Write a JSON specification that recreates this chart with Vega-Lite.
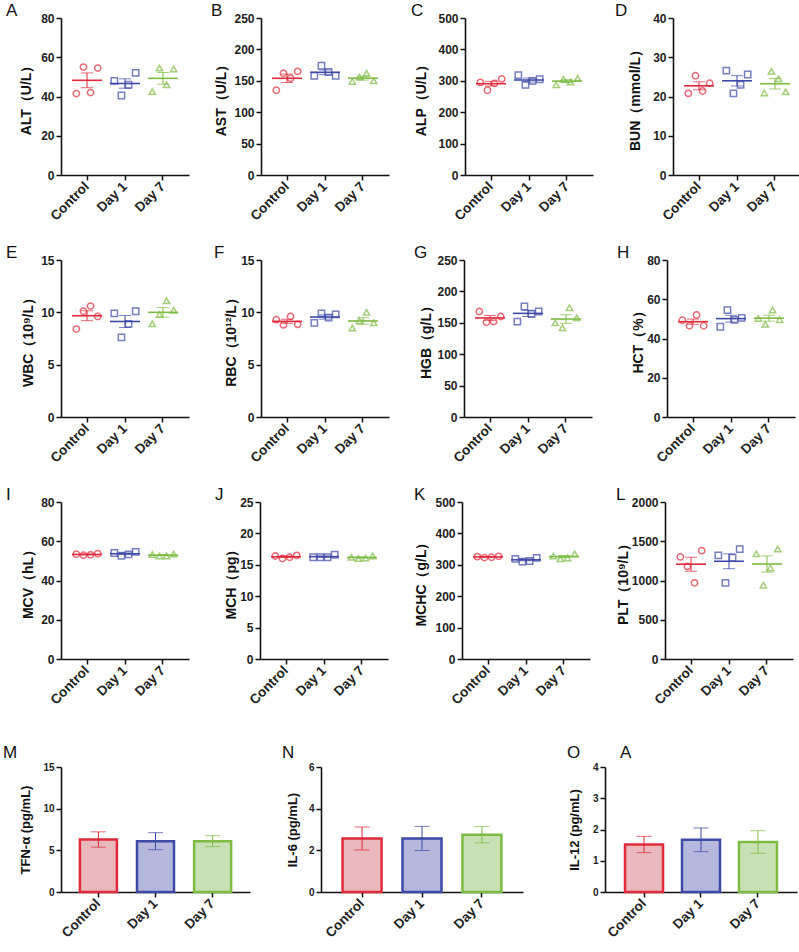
{
"$schema": "https://vega.github.io/schema/vega-lite/v6.json",
"padding": {"left": 3, "top": 2, "right": 0, "bottom": 0},
"background": "white",
"datasets": {
"dots": [
{"panel":"ALT","group":"Control","rep":1,"value":41.5},{"panel":"ALT","group":"Control","rep":2,"value":55},{"panel":"ALT","group":"Control","rep":3,"value":42},{"panel":"ALT","group":"Control","rep":4,"value":54.5},
{"panel":"ALT","group":"Day 1","rep":1,"value":48},{"panel":"ALT","group":"Day 1","rep":2,"value":40.5},{"panel":"ALT","group":"Day 1","rep":3,"value":46},{"panel":"ALT","group":"Day 1","rep":4,"value":52},
{"panel":"ALT","group":"Day 7","rep":1,"value":42.5},{"panel":"ALT","group":"Day 7","rep":2,"value":54.5},{"panel":"ALT","group":"Day 7","rep":3,"value":46},{"panel":"ALT","group":"Day 7","rep":4,"value":54},
{"panel":"AST","group":"Control","rep":1,"value":135},{"panel":"AST","group":"Control","rep":2,"value":162},{"panel":"AST","group":"Control","rep":3,"value":154},{"panel":"AST","group":"Control","rep":4,"value":165},
{"panel":"AST","group":"Day 1","rep":1,"value":158},{"panel":"AST","group":"Day 1","rep":2,"value":174},{"panel":"AST","group":"Day 1","rep":3,"value":164},{"panel":"AST","group":"Day 1","rep":4,"value":158},
{"panel":"AST","group":"Day 7","rep":1,"value":149},{"panel":"AST","group":"Day 7","rep":2,"value":156},{"panel":"AST","group":"Day 7","rep":3,"value":162},{"panel":"AST","group":"Day 7","rep":4,"value":150},
{"panel":"ALP","group":"Control","rep":1,"value":295},{"panel":"ALP","group":"Control","rep":2,"value":270},{"panel":"ALP","group":"Control","rep":3,"value":292},{"panel":"ALP","group":"Control","rep":4,"value":306},
{"panel":"ALP","group":"Day 1","rep":1,"value":318},{"panel":"ALP","group":"Day 1","rep":2,"value":287},{"panel":"ALP","group":"Day 1","rep":3,"value":300},{"panel":"ALP","group":"Day 1","rep":4,"value":305},
{"panel":"ALP","group":"Day 7","rep":1,"value":287},{"panel":"ALP","group":"Day 7","rep":2,"value":305},{"panel":"ALP","group":"Day 7","rep":3,"value":296},{"panel":"ALP","group":"Day 7","rep":4,"value":308},
{"panel":"BUN","group":"Control","rep":1,"value":20.8},{"panel":"BUN","group":"Control","rep":2,"value":25.3},{"panel":"BUN","group":"Control","rep":3,"value":21.4},{"panel":"BUN","group":"Control","rep":4,"value":23.4},
{"panel":"BUN","group":"Day 1","rep":1,"value":26.6},{"panel":"BUN","group":"Day 1","rep":2,"value":20.8},{"panel":"BUN","group":"Day 1","rep":3,"value":23.0},{"panel":"BUN","group":"Day 1","rep":4,"value":25.6},
{"panel":"BUN","group":"Day 7","rep":1,"value":20.9},{"panel":"BUN","group":"Day 7","rep":2,"value":26.4},{"panel":"BUN","group":"Day 7","rep":3,"value":24.5},{"panel":"BUN","group":"Day 7","rep":4,"value":21.2},
{"panel":"WBC","group":"Control","rep":1,"value":8.4},{"panel":"WBC","group":"Control","rep":2,"value":10.1},{"panel":"WBC","group":"Control","rep":3,"value":10.6},{"panel":"WBC","group":"Control","rep":4,"value":9.6},
{"panel":"WBC","group":"Day 1","rep":1,"value":9.9},{"panel":"WBC","group":"Day 1","rep":2,"value":7.6},{"panel":"WBC","group":"Day 1","rep":3,"value":8.9},{"panel":"WBC","group":"Day 1","rep":4,"value":10.1},
{"panel":"WBC","group":"Day 7","rep":1,"value":8.9},{"panel":"WBC","group":"Day 7","rep":2,"value":9.8},{"panel":"WBC","group":"Day 7","rep":3,"value":11.1},{"panel":"WBC","group":"Day 7","rep":4,"value":10.2},
{"panel":"RBC","group":"Control","rep":1,"value":9.3},{"panel":"RBC","group":"Control","rep":2,"value":8.8},{"panel":"RBC","group":"Control","rep":3,"value":9.6},{"panel":"RBC","group":"Control","rep":4,"value":8.85},
{"panel":"RBC","group":"Day 1","rep":1,"value":9.0},{"panel":"RBC","group":"Day 1","rep":2,"value":9.9},{"panel":"RBC","group":"Day 1","rep":3,"value":9.5},{"panel":"RBC","group":"Day 1","rep":4,"value":9.8},
{"panel":"RBC","group":"Day 7","rep":1,"value":8.5},{"panel":"RBC","group":"Day 7","rep":2,"value":9.2},{"panel":"RBC","group":"Day 7","rep":3,"value":10.0},{"panel":"RBC","group":"Day 7","rep":4,"value":9.0},
{"panel":"HGB","group":"Control","rep":1,"value":168},{"panel":"HGB","group":"Control","rep":2,"value":151},{"panel":"HGB","group":"Control","rep":3,"value":152},{"panel":"HGB","group":"Control","rep":4,"value":160},
{"panel":"HGB","group":"Day 1","rep":1,"value":152},{"panel":"HGB","group":"Day 1","rep":2,"value":176},{"panel":"HGB","group":"Day 1","rep":3,"value":164},{"panel":"HGB","group":"Day 1","rep":4,"value":168},
{"panel":"HGB","group":"Day 7","rep":1,"value":150},{"panel":"HGB","group":"Day 7","rep":2,"value":142},{"panel":"HGB","group":"Day 7","rep":3,"value":174},{"panel":"HGB","group":"Day 7","rep":4,"value":158},
{"panel":"HCT","group":"Control","rep":1,"value":49.3},{"panel":"HCT","group":"Control","rep":2,"value":46.5},{"panel":"HCT","group":"Control","rep":3,"value":52},{"panel":"HCT","group":"Control","rep":4,"value":46.5},
{"panel":"HCT","group":"Day 1","rep":1,"value":46},{"panel":"HCT","group":"Day 1","rep":2,"value":54.5},{"panel":"HCT","group":"Day 1","rep":3,"value":49.5},{"panel":"HCT","group":"Day 1","rep":4,"value":50.5},
{"panel":"HCT","group":"Day 7","rep":1,"value":50.2},{"panel":"HCT","group":"Day 7","rep":2,"value":47.2},{"panel":"HCT","group":"Day 7","rep":3,"value":54.5},{"panel":"HCT","group":"Day 7","rep":4,"value":49.6},
{"panel":"MCV","group":"Control","rep":1,"value":53.4},{"panel":"MCV","group":"Control","rep":2,"value":52.9},{"panel":"MCV","group":"Control","rep":3,"value":53.1},{"panel":"MCV","group":"Control","rep":4,"value":53.7},
{"panel":"MCV","group":"Day 1","rep":1,"value":54.0},{"panel":"MCV","group":"Day 1","rep":2,"value":52.6},{"panel":"MCV","group":"Day 1","rep":3,"value":53.3},{"panel":"MCV","group":"Day 1","rep":4,"value":54.6},
{"panel":"MCV","group":"Day 7","rep":1,"value":53.2},{"panel":"MCV","group":"Day 7","rep":2,"value":52.5},{"panel":"MCV","group":"Day 7","rep":3,"value":52.5},{"panel":"MCV","group":"Day 7","rep":4,"value":53.5},
{"panel":"MCH","group":"Control","rep":1,"value":16.4},{"panel":"MCH","group":"Control","rep":2,"value":16.0},{"panel":"MCH","group":"Control","rep":3,"value":16.2},{"panel":"MCH","group":"Control","rep":4,"value":16.5},
{"panel":"MCH","group":"Day 1","rep":1,"value":16.2},{"panel":"MCH","group":"Day 1","rep":2,"value":16.2},{"panel":"MCH","group":"Day 1","rep":3,"value":16.2},{"panel":"MCH","group":"Day 1","rep":4,"value":16.6},
{"panel":"MCH","group":"Day 7","rep":1,"value":16.2},{"panel":"MCH","group":"Day 7","rep":2,"value":16.0},{"panel":"MCH","group":"Day 7","rep":3,"value":16.1},{"panel":"MCH","group":"Day 7","rep":4,"value":16.4},
{"panel":"MCHC","group":"Control","rep":1,"value":326},{"panel":"MCHC","group":"Control","rep":2,"value":323},{"panel":"MCHC","group":"Control","rep":3,"value":324},{"panel":"MCHC","group":"Control","rep":4,"value":327},
{"panel":"MCHC","group":"Day 1","rep":1,"value":319},{"panel":"MCHC","group":"Day 1","rep":2,"value":310},{"panel":"MCHC","group":"Day 1","rep":3,"value":312},{"panel":"MCHC","group":"Day 1","rep":4,"value":322},
{"panel":"MCHC","group":"Day 7","rep":1,"value":328},{"panel":"MCHC","group":"Day 7","rep":2,"value":319},{"panel":"MCHC","group":"Day 7","rep":3,"value":322},{"panel":"MCHC","group":"Day 7","rep":4,"value":335},
{"panel":"PLT","group":"Control","rep":1,"value":1300},{"panel":"PLT","group":"Control","rep":2,"value":1180},{"panel":"PLT","group":"Control","rep":3,"value":970},{"panel":"PLT","group":"Control","rep":4,"value":1380},
{"panel":"PLT","group":"Day 1","rep":1,"value":1320},{"panel":"PLT","group":"Day 1","rep":2,"value":970},{"panel":"PLT","group":"Day 1","rep":3,"value":1290},{"panel":"PLT","group":"Day 1","rep":4,"value":1400},
{"panel":"PLT","group":"Day 7","rep":1,"value":1340},{"panel":"PLT","group":"Day 7","rep":2,"value":940},{"panel":"PLT","group":"Day 7","rep":3,"value":1160},{"panel":"PLT","group":"Day 7","rep":4,"value":1400}
],
"tfn": [{"group":"Control","mean":6.3,"err":0.92},{"group":"Day 1","mean":6.1,"err":1.02},{"group":"Day 7","mean":6.1,"err":0.66}],
"il6": [{"group":"Control","mean":2.57,"err":0.55},{"group":"Day 1","mean":2.57,"err":0.58},{"group":"Day 7","mean":2.75,"err":0.39}],
"il12": [{"group":"Control","mean":1.52,"err":0.26},{"group":"Day 1","mean":1.67,"err":0.38},{"group":"Day 7","mean":1.6,"err":0.36}]
},
"vconcat": [
{"vconcat": [
{"hconcat": [
{"title":{"text":"A","dx":-55},"width":128,"height":157,"data":{"name":"dots"},"transform":[{"filter":"datum.panel==='ALT'"}],
"encoding":{"x":{"field":"group","type":"nominal","sort":["Control","Day 1","Day 7"],"scale":{"type":"band","paddingInner":0.25,"paddingOuter":0.31},"axis":{"title":null}},"color":{"field":"group","type":"nominal","scale":{"domain":["Control","Day 1","Day 7"],"range":["#e02a3b","#3d4aa6","#7dbb43"]},"legend":null}},
"layer":[
{"mark":{"type":"point","filled":false,"size":40,"strokeWidth":1.5},"encoding":{"xOffset":{"field":"rep","type":"nominal"},"shape":{"field":"group","type":"nominal","scale":{"domain":["Control","Day 1","Day 7"],"range":["circle","square","triangle-up"]},"legend":null},"y":{"field":"value","type":"quantitative","scale":{"domain":[0,80],"nice":false},"axis":{"title":"ALT（U/L）","values":[0,20,40,60,80],"labelOverlap":false,"minExtent":26,"maxExtent":26}}}},
{"mark":{"type":"tick","size":30,"thickness":1.6},"encoding":{"y":{"aggregate":"mean","field":"value","type":"quantitative","axis":{"title":"ALT（U/L）","values":[0,20,40,60,80],"labelOverlap":false}}}},
{"mark":{"type":"errorbar","extent":"stderr","thickness":1,"ticks":{"size":12,"thickness":1}},"encoding":{"y":{"field":"value","type":"quantitative","axis":{"title":"ALT（U/L）","values":[0,20,40,60,80],"labelOverlap":false}}}}]},
{"title":{"text":"B","dx":-50},"width":128,"height":157,"data":{"name":"dots"},"transform":[{"filter":"datum.panel==='AST'"}],
"encoding":{"x":{"field":"group","type":"nominal","sort":["Control","Day 1","Day 7"],"scale":{"type":"band","paddingInner":0.25,"paddingOuter":0.31},"axis":{"title":null}},"color":{"field":"group","type":"nominal","scale":{"domain":["Control","Day 1","Day 7"],"range":["#e02a3b","#3d4aa6","#7dbb43"]},"legend":null}},
"layer":[
{"mark":{"type":"point","filled":false,"size":40,"strokeWidth":1.5},"encoding":{"xOffset":{"field":"rep","type":"nominal"},"shape":{"field":"group","type":"nominal","scale":{"domain":["Control","Day 1","Day 7"],"range":["circle","square","triangle-up"]},"legend":null},"y":{"field":"value","type":"quantitative","scale":{"domain":[0,250],"nice":false},"axis":{"title":"AST（U/L）","values":[0,50,100,150,200,250],"labelOverlap":false,"minExtent":31,"maxExtent":31}}}},
{"mark":{"type":"tick","size":30,"thickness":1.6},"encoding":{"y":{"aggregate":"mean","field":"value","type":"quantitative","axis":{"title":"AST（U/L）","values":[0,50,100,150,200,250],"labelOverlap":false}}}},
{"mark":{"type":"errorbar","extent":"stderr","thickness":1,"ticks":{"size":12,"thickness":1}},"encoding":{"y":{"field":"value","type":"quantitative","axis":{"title":"AST（U/L）","values":[0,50,100,150,200,250],"labelOverlap":false}}}}]},
{"title":{"text":"C","dx":-54},"width":128,"height":157,"data":{"name":"dots"},"transform":[{"filter":"datum.panel==='ALP'"}],
"encoding":{"x":{"field":"group","type":"nominal","sort":["Control","Day 1","Day 7"],"scale":{"type":"band","paddingInner":0.25,"paddingOuter":0.31},"axis":{"title":null}},"color":{"field":"group","type":"nominal","scale":{"domain":["Control","Day 1","Day 7"],"range":["#e02a3b","#3d4aa6","#7dbb43"]},"legend":null}},
"layer":[
{"mark":{"type":"point","filled":false,"size":40,"strokeWidth":1.5},"encoding":{"xOffset":{"field":"rep","type":"nominal"},"shape":{"field":"group","type":"nominal","scale":{"domain":["Control","Day 1","Day 7"],"range":["circle","square","triangle-up"]},"legend":null},"y":{"field":"value","type":"quantitative","scale":{"domain":[0,500],"nice":false},"axis":{"title":"ALP（U/L）","values":[0,100,200,300,400,500],"labelOverlap":false,"minExtent":35,"maxExtent":35}}}},
{"mark":{"type":"tick","size":30,"thickness":1.6},"encoding":{"y":{"aggregate":"mean","field":"value","type":"quantitative","axis":{"title":"ALP（U/L）","values":[0,100,200,300,400,500],"labelOverlap":false}}}},
{"mark":{"type":"errorbar","extent":"stderr","thickness":1,"ticks":{"size":12,"thickness":1}},"encoding":{"y":{"field":"value","type":"quantitative","axis":{"title":"ALP（U/L）","values":[0,100,200,300,400,500],"labelOverlap":false}}}}]},
{"title":{"text":"D","dx":-58},"width":128,"height":157,"data":{"name":"dots"},"transform":[{"filter":"datum.panel==='BUN'"}],
"encoding":{"x":{"field":"group","type":"nominal","sort":["Control","Day 1","Day 7"],"scale":{"type":"band","paddingInner":0.25,"paddingOuter":0.31},"axis":{"title":null}},"color":{"field":"group","type":"nominal","scale":{"domain":["Control","Day 1","Day 7"],"range":["#e02a3b","#3d4aa6","#7dbb43"]},"legend":null}},
"layer":[
{"mark":{"type":"point","filled":false,"size":40,"strokeWidth":1.5},"encoding":{"xOffset":{"field":"rep","type":"nominal"},"shape":{"field":"group","type":"nominal","scale":{"domain":["Control","Day 1","Day 7"],"range":["circle","square","triangle-up"]},"legend":null},"y":{"field":"value","type":"quantitative","scale":{"domain":[0,40],"nice":false},"axis":{"title":"BUN（mmol/L）","values":[0,10,20,30,40],"labelOverlap":false,"minExtent":29,"maxExtent":29}}}},
{"mark":{"type":"tick","size":30,"thickness":1.6},"encoding":{"y":{"aggregate":"mean","field":"value","type":"quantitative","axis":{"title":"BUN（mmol/L）","values":[0,10,20,30,40],"labelOverlap":false}}}},
{"mark":{"type":"errorbar","extent":"stderr","thickness":1,"ticks":{"size":12,"thickness":1}},"encoding":{"y":{"field":"value","type":"quantitative","axis":{"title":"BUN（mmol/L）","values":[0,10,20,30,40],"labelOverlap":false}}}}]}
], "spacing": 22},
{"hconcat": [
{"title":{"text":"E","dx":-55},"width":128,"height":157,"data":{"name":"dots"},"transform":[{"filter":"datum.panel==='WBC'"}],
"encoding":{"x":{"field":"group","type":"nominal","sort":["Control","Day 1","Day 7"],"scale":{"type":"band","paddingInner":0.25,"paddingOuter":0.31},"axis":{"title":null}},"color":{"field":"group","type":"nominal","scale":{"domain":["Control","Day 1","Day 7"],"range":["#e02a3b","#3d4aa6","#7dbb43"]},"legend":null}},
"layer":[
{"mark":{"type":"point","filled":false,"size":40,"strokeWidth":1.5},"encoding":{"xOffset":{"field":"rep","type":"nominal"},"shape":{"field":"group","type":"nominal","scale":{"domain":["Control","Day 1","Day 7"],"range":["circle","square","triangle-up"]},"legend":null},"y":{"field":"value","type":"quantitative","scale":{"domain":[0,15],"nice":false},"axis":{"title":"WBC（10⁹/L）","values":[0,5,10,15],"labelOverlap":false,"minExtent":24,"maxExtent":24}}}},
{"mark":{"type":"tick","size":30,"thickness":1.6},"encoding":{"y":{"aggregate":"mean","field":"value","type":"quantitative","axis":{"title":"WBC（10⁹/L）","values":[0,5,10,15],"labelOverlap":false}}}},
{"mark":{"type":"errorbar","extent":"stderr","thickness":1,"ticks":{"size":12,"thickness":1}},"encoding":{"y":{"field":"value","type":"quantitative","axis":{"title":"WBC（10⁹/L）","values":[0,5,10,15],"labelOverlap":false}}}}]},
{"title":{"text":"F","dx":-47},"width":128,"height":157,"data":{"name":"dots"},"transform":[{"filter":"datum.panel==='RBC'"}],
"encoding":{"x":{"field":"group","type":"nominal","sort":["Control","Day 1","Day 7"],"scale":{"type":"band","paddingInner":0.25,"paddingOuter":0.31},"axis":{"title":null}},"color":{"field":"group","type":"nominal","scale":{"domain":["Control","Day 1","Day 7"],"range":["#e02a3b","#3d4aa6","#7dbb43"]},"legend":null}},
"layer":[
{"mark":{"type":"point","filled":false,"size":40,"strokeWidth":1.5},"encoding":{"xOffset":{"field":"rep","type":"nominal"},"shape":{"field":"group","type":"nominal","scale":{"domain":["Control","Day 1","Day 7"],"range":["circle","square","triangle-up"]},"legend":null},"y":{"field":"value","type":"quantitative","scale":{"domain":[0,15],"nice":false},"axis":{"title":"RBC（10¹²/L）","values":[0,5,10,15],"labelOverlap":false,"minExtent":21,"maxExtent":21}}}},
{"mark":{"type":"tick","size":30,"thickness":1.6},"encoding":{"y":{"aggregate":"mean","field":"value","type":"quantitative","axis":{"title":"RBC（10¹²/L）","values":[0,5,10,15],"labelOverlap":false}}}},
{"mark":{"type":"errorbar","extent":"stderr","thickness":1,"ticks":{"size":12,"thickness":1}},"encoding":{"y":{"field":"value","type":"quantitative","axis":{"title":"RBC（10¹²/L）","values":[0,5,10,15],"labelOverlap":false}}}}]},
{"title":{"text":"G","dx":-50},"width":128,"height":157,"data":{"name":"dots"},"transform":[{"filter":"datum.panel==='HGB'"}],
"encoding":{"x":{"field":"group","type":"nominal","sort":["Control","Day 1","Day 7"],"scale":{"type":"band","paddingInner":0.25,"paddingOuter":0.31},"axis":{"title":null}},"color":{"field":"group","type":"nominal","scale":{"domain":["Control","Day 1","Day 7"],"range":["#e02a3b","#3d4aa6","#7dbb43"]},"legend":null}},
"layer":[
{"mark":{"type":"point","filled":false,"size":40,"strokeWidth":1.5},"encoding":{"xOffset":{"field":"rep","type":"nominal"},"shape":{"field":"group","type":"nominal","scale":{"domain":["Control","Day 1","Day 7"],"range":["circle","square","triangle-up"]},"legend":null},"y":{"field":"value","type":"quantitative","scale":{"domain":[0,250],"nice":false},"axis":{"title":"HGB（g/L）","values":[0,50,100,150,200,250],"labelOverlap":false,"minExtent":29,"maxExtent":29}}}},
{"mark":{"type":"tick","size":30,"thickness":1.6},"encoding":{"y":{"aggregate":"mean","field":"value","type":"quantitative","axis":{"title":"HGB（g/L）","values":[0,50,100,150,200,250],"labelOverlap":false}}}},
{"mark":{"type":"errorbar","extent":"stderr","thickness":1,"ticks":{"size":12,"thickness":1}},"encoding":{"y":{"field":"value","type":"quantitative","axis":{"title":"HGB（g/L）","values":[0,50,100,150,200,250],"labelOverlap":false}}}}]},
{"title":{"text":"H","dx":-50},"width":128,"height":157,"data":{"name":"dots"},"transform":[{"filter":"datum.panel==='HCT'"}],
"encoding":{"x":{"field":"group","type":"nominal","sort":["Control","Day 1","Day 7"],"scale":{"type":"band","paddingInner":0.25,"paddingOuter":0.31},"axis":{"title":null}},"color":{"field":"group","type":"nominal","scale":{"domain":["Control","Day 1","Day 7"],"range":["#e02a3b","#3d4aa6","#7dbb43"]},"legend":null}},
"layer":[
{"mark":{"type":"point","filled":false,"size":40,"strokeWidth":1.5},"encoding":{"xOffset":{"field":"rep","type":"nominal"},"shape":{"field":"group","type":"nominal","scale":{"domain":["Control","Day 1","Day 7"],"range":["circle","square","triangle-up"]},"legend":null},"y":{"field":"value","type":"quantitative","scale":{"domain":[0,80],"nice":false},"axis":{"title":"HCT（%）","values":[0,20,40,60,80],"labelOverlap":false,"minExtent":20,"maxExtent":20}}}},
{"mark":{"type":"tick","size":30,"thickness":1.6},"encoding":{"y":{"aggregate":"mean","field":"value","type":"quantitative","axis":{"title":"HCT（%）","values":[0,20,40,60,80],"labelOverlap":false}}}},
{"mark":{"type":"errorbar","extent":"stderr","thickness":1,"ticks":{"size":12,"thickness":1}},"encoding":{"y":{"field":"value","type":"quantitative","axis":{"title":"HCT（%）","values":[0,20,40,60,80],"labelOverlap":false}}}}]}
], "spacing": 25},
{"hconcat": [
{"title":{"text":"I","dx":-55},"width":128,"height":157,"data":{"name":"dots"},"transform":[{"filter":"datum.panel==='MCV'"}],
"encoding":{"x":{"field":"group","type":"nominal","sort":["Control","Day 1","Day 7"],"scale":{"type":"band","paddingInner":0.25,"paddingOuter":0.31},"axis":{"title":null}},"color":{"field":"group","type":"nominal","scale":{"domain":["Control","Day 1","Day 7"],"range":["#e02a3b","#3d4aa6","#7dbb43"]},"legend":null}},
"layer":[
{"mark":{"type":"point","filled":false,"size":40,"strokeWidth":1.5},"encoding":{"xOffset":{"field":"rep","type":"nominal"},"shape":{"field":"group","type":"nominal","scale":{"domain":["Control","Day 1","Day 7"],"range":["circle","square","triangle-up"]},"legend":null},"y":{"field":"value","type":"quantitative","scale":{"domain":[0,80],"nice":false},"axis":{"title":"MCV（hL）","values":[0,20,40,60,80],"labelOverlap":false,"minExtent":24,"maxExtent":24}}}},
{"mark":{"type":"tick","size":30,"thickness":1.6},"encoding":{"y":{"aggregate":"mean","field":"value","type":"quantitative","axis":{"title":"MCV（hL）","values":[0,20,40,60,80],"labelOverlap":false}}}},
{"mark":{"type":"errorbar","extent":"stderr","thickness":1,"ticks":{"size":12,"thickness":1}},"encoding":{"y":{"field":"value","type":"quantitative","axis":{"title":"MCV（hL）","values":[0,20,40,60,80],"labelOverlap":false}}}}]},
{"title":{"text":"J","dx":-45},"width":128,"height":157,"data":{"name":"dots"},"transform":[{"filter":"datum.panel==='MCH'"}],
"encoding":{"x":{"field":"group","type":"nominal","sort":["Control","Day 1","Day 7"],"scale":{"type":"band","paddingInner":0.25,"paddingOuter":0.31},"axis":{"title":null}},"color":{"field":"group","type":"nominal","scale":{"domain":["Control","Day 1","Day 7"],"range":["#e02a3b","#3d4aa6","#7dbb43"]},"legend":null}},
"layer":[
{"mark":{"type":"point","filled":false,"size":40,"strokeWidth":1.5},"encoding":{"xOffset":{"field":"rep","type":"nominal"},"shape":{"field":"group","type":"nominal","scale":{"domain":["Control","Day 1","Day 7"],"range":["circle","square","triangle-up"]},"legend":null},"y":{"field":"value","type":"quantitative","scale":{"domain":[0,25],"nice":false},"axis":{"title":"MCH（pg）","values":[0,5,10,15,20,25],"labelOverlap":false,"minExtent":20,"maxExtent":20}}}},
{"mark":{"type":"tick","size":30,"thickness":1.6},"encoding":{"y":{"aggregate":"mean","field":"value","type":"quantitative","axis":{"title":"MCH（pg）","values":[0,5,10,15,20,25],"labelOverlap":false}}}},
{"mark":{"type":"errorbar","extent":"stderr","thickness":1,"ticks":{"size":12,"thickness":1}},"encoding":{"y":{"field":"value","type":"quantitative","axis":{"title":"MCH（pg）","values":[0,5,10,15,20,25],"labelOverlap":false}}}}]},
{"title":{"text":"K","dx":-48},"width":128,"height":157,"data":{"name":"dots"},"transform":[{"filter":"datum.panel==='MCHC'"}],
"encoding":{"x":{"field":"group","type":"nominal","sort":["Control","Day 1","Day 7"],"scale":{"type":"band","paddingInner":0.25,"paddingOuter":0.31},"axis":{"title":null}},"color":{"field":"group","type":"nominal","scale":{"domain":["Control","Day 1","Day 7"],"range":["#e02a3b","#3d4aa6","#7dbb43"]},"legend":null}},
"layer":[
{"mark":{"type":"point","filled":false,"size":40,"strokeWidth":1.5},"encoding":{"xOffset":{"field":"rep","type":"nominal"},"shape":{"field":"group","type":"nominal","scale":{"domain":["Control","Day 1","Day 7"],"range":["circle","square","triangle-up"]},"legend":null},"y":{"field":"value","type":"quantitative","scale":{"domain":[0,500],"nice":false},"axis":{"title":"MCHC（g/L）","values":[0,100,200,300,400,500],"labelOverlap":false,"minExtent":32,"maxExtent":32}}}},
{"mark":{"type":"tick","size":30,"thickness":1.6},"encoding":{"y":{"aggregate":"mean","field":"value","type":"quantitative","axis":{"title":"MCHC（g/L）","values":[0,100,200,300,400,500],"labelOverlap":false}}}},
{"mark":{"type":"errorbar","extent":"stderr","thickness":1,"ticks":{"size":12,"thickness":1}},"encoding":{"y":{"field":"value","type":"quantitative","axis":{"title":"MCHC（g/L）","values":[0,100,200,300,400,500],"labelOverlap":false}}}}]},
{"title":{"text":"L","dx":-49},"width":128,"height":157,"data":{"name":"dots"},"transform":[{"filter":"datum.panel==='PLT'"}],
"encoding":{"x":{"field":"group","type":"nominal","sort":["Control","Day 1","Day 7"],"scale":{"type":"band","paddingInner":0.25,"paddingOuter":0.31},"axis":{"title":null}},"color":{"field":"group","type":"nominal","scale":{"domain":["Control","Day 1","Day 7"],"range":["#e02a3b","#3d4aa6","#7dbb43"]},"legend":null}},
"layer":[
{"mark":{"type":"point","filled":false,"size":40,"strokeWidth":1.5},"encoding":{"xOffset":{"field":"rep","type":"nominal"},"shape":{"field":"group","type":"nominal","scale":{"domain":["Control","Day 1","Day 7"],"range":["circle","square","triangle-up"]},"legend":null},"y":{"field":"value","type":"quantitative","scale":{"domain":[0,2000],"nice":false},"axis":{"title":"PLT（10⁹/L）","values":[0,500,1000,1500,2000],"format":"d","labelOverlap":false,"minExtent":33,"maxExtent":33}}}},
{"mark":{"type":"tick","size":30,"thickness":1.6},"encoding":{"y":{"aggregate":"mean","field":"value","type":"quantitative","axis":{"title":"PLT（10⁹/L）","values":[0,500,1000,1500,2000],"format":"d","labelOverlap":false}}}},
{"mark":{"type":"errorbar","extent":"stderr","thickness":1,"ticks":{"size":12,"thickness":1}},"encoding":{"y":{"field":"value","type":"quantitative","axis":{"title":"PLT（10⁹/L）","values":[0,500,1000,1500,2000],"format":"d","labelOverlap":false}}}}]}
], "spacing": 26}
], "spacing": 21},
{"hconcat": [
{"title":{"text":"M","dx":-58,"dy":4},"width":189,"height":125,"data":{"name":"tfn"},
"encoding":{"x":{"field":"group","type":"nominal","sort":["Control","Day 1","Day 7"],"scale":{"type":"band","paddingInner":0.35,"paddingOuter":0.33},"axis":{"title":null}}},
"layer":[
{"mark":{"type":"bar","strokeWidth":2.5,"width":37},"encoding":{"y":{"field":"mean","type":"quantitative","scale":{"domain":[0,15],"nice":false},"axis":{"title":"TFN-α (pg/mL)","values":[0,5,10,15],"labelOverlap":false,"labelFontSize":10,"titleFontSize":13,"minExtent":27,"maxExtent":27}},"fill":{"field":"group","type":"nominal","scale":{"domain":["Control","Day 1","Day 7"],"range":["#e9b8bd","#b6b7dd","#c9e0b5"]},"legend":null},"stroke":{"field":"group","type":"nominal","scale":{"domain":["Control","Day 1","Day 7"],"range":["#e02a3b","#3d4aa6","#7dbb43"]},"legend":null}}},
{"mark":{"type":"errorbar","thickness":1,"ticks":{"size":15,"thickness":1}},"encoding":{"y":{"field":"mean","type":"quantitative","axis":{"title":"TFN-α (pg/mL)","values":[0,5,10,15],"labelOverlap":false}},"yError":{"field":"err"},"color":{"field":"group","type":"nominal","scale":{"domain":["Control","Day 1","Day 7"],"range":["#e02a3b","#3d4aa6","#7dbb43"]},"legend":null}}}]},
{"hconcat": [
{"title":{"text":"N","dx":-39,"dy":4},"width":202,"height":125,"data":{"name":"il6"},
"encoding":{"x":{"field":"group","type":"nominal","sort":["Control","Day 1","Day 7"],"scale":{"type":"band","paddingInner":0.35,"paddingOuter":0.36},"axis":{"title":null}}},
"layer":[
{"mark":{"type":"bar","strokeWidth":2.5,"width":39},"encoding":{"y":{"field":"mean","type":"quantitative","scale":{"domain":[0,6],"nice":false},"axis":{"title":"IL-6 (pg/mL)","values":[0,2,4,6],"labelOverlap":false,"labelFontSize":10,"titleFontSize":13,"minExtent":19.5,"maxExtent":19.5}},"fill":{"field":"group","type":"nominal","scale":{"domain":["Control","Day 1","Day 7"],"range":["#e9b8bd","#b6b7dd","#c9e0b5"]},"legend":null},"stroke":{"field":"group","type":"nominal","scale":{"domain":["Control","Day 1","Day 7"],"range":["#e02a3b","#3d4aa6","#7dbb43"]},"legend":null}}},
{"mark":{"type":"errorbar","thickness":1,"ticks":{"size":15,"thickness":1}},"encoding":{"y":{"field":"mean","type":"quantitative","axis":{"title":"IL-6 (pg/mL)","values":[0,2,4,6],"labelOverlap":false}},"yError":{"field":"err"},"color":{"field":"group","type":"nominal","scale":{"domain":["Control","Day 1","Day 7"],"range":["#e02a3b","#3d4aa6","#7dbb43"]},"legend":null}}}]},
{"title":{"text":"O\u2003\u2003\u2004A","dx":-38,"dy":4},"width":192,"height":125,"data":{"name":"il12"},
"encoding":{"x":{"field":"group","type":"nominal","sort":["Control","Day 1","Day 7"],"scale":{"type":"band","paddingInner":0.33,"paddingOuter":0.35},"axis":{"title":null}}},
"layer":[
{"mark":{"type":"bar","strokeWidth":2.5,"width":38},"encoding":{"y":{"field":"mean","type":"quantitative","scale":{"domain":[0,4],"nice":false},"axis":{"title":"IL-12 (pg/mL)","values":[0,1,2,3,4],"labelOverlap":false,"labelFontSize":10,"titleFontSize":13,"minExtent":21.5,"maxExtent":21.5}},"fill":{"field":"group","type":"nominal","scale":{"domain":["Control","Day 1","Day 7"],"range":["#e9b8bd","#b6b7dd","#c9e0b5"]},"legend":null},"stroke":{"field":"group","type":"nominal","scale":{"domain":["Control","Day 1","Day 7"],"range":["#e02a3b","#3d4aa6","#7dbb43"]},"legend":null}}},
{"mark":{"type":"errorbar","thickness":1,"ticks":{"size":15,"thickness":1}},"encoding":{"y":{"field":"mean","type":"quantitative","axis":{"title":"IL-12 (pg/mL)","values":[0,1,2,3,4],"labelOverlap":false}},"yError":{"field":"err"},"color":{"field":"group","type":"nominal","scale":{"domain":["Control","Day 1","Day 7"],"range":["#e02a3b","#3d4aa6","#7dbb43"]},"legend":null}}}]}
], "spacing": 44}
], "spacing": 32}
], "spacing": 37,
"config": {
"font": "Liberation Sans",
"view": {"stroke": null},
"axis": {"grid": false, "domainColor": "#111", "domainWidth": 1.6, "tickColor": "#111", "tickWidth": 1.5, "tickSize": 5, "labelColor": "#222", "labelFont": "Liberation Sans", "labelFontWeight": "bold", "labelFontSize": 12, "labelPadding": 2, "titleFont": "Liberation Sans", "titleFontWeight": "bold", "titleFontSize": 14, "titleColor": "#111"},
"axisY": {"titlePadding": 2, "labelOverlap": false},
"axisX": {"labelAngle": -45, "labelFontSize": 13.5, "labelBaseline": "middle", "labelAlign": "right", "labelPadding": 4},
"title": {"anchor": "start", "frame": "group", "font": "Liberation Sans", "fontSize": 17, "fontWeight": "normal", "color": "#111", "offset": 0, "dy": 12}
}
}
